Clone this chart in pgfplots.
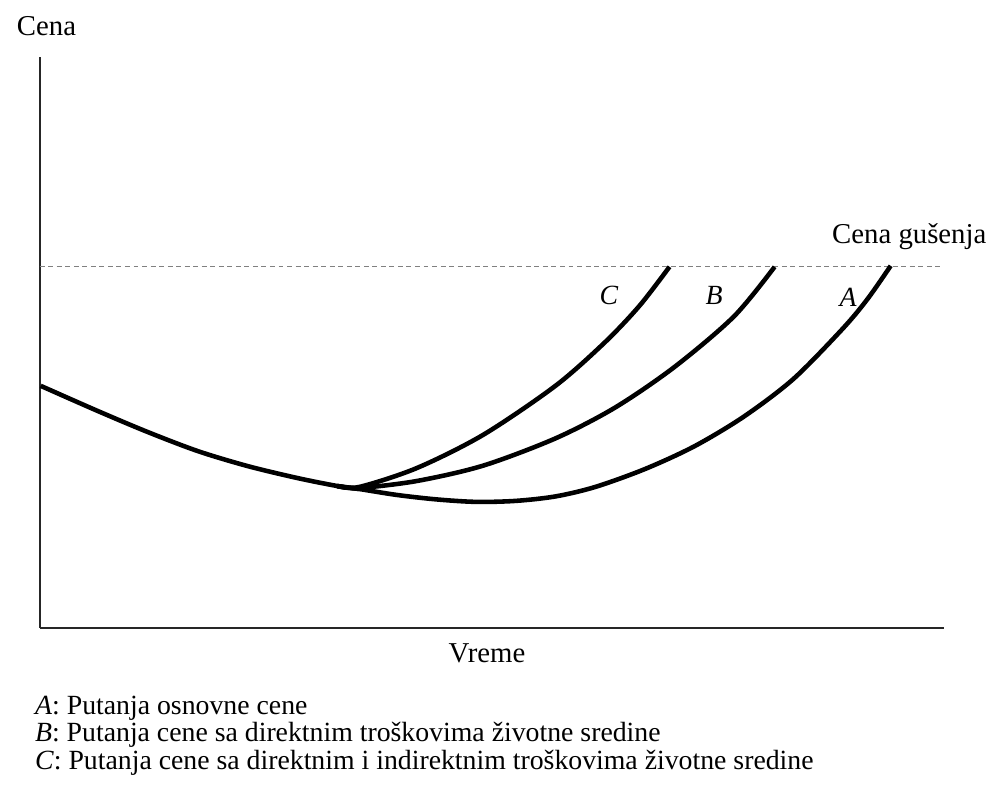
\documentclass[border=0pt]{standalone}
\usepackage{fontspec}
\setmainfont{Liberation Serif}
\usepackage{pgfplots}
\pgfplotsset{compat=1.18}
\begin{document}
\begin{tikzpicture}
\begin{axis}[
  x=0.5pt, y=0.5pt,
  xmin=40, xmax=952, ymin=170, ymax=746,
  axis lines=left,
  axis line style={-, line width=0.9pt, black!85},
  xtick=\empty, ytick=\empty,
  clip=false,
]
\path (axis cs:0,0) rectangle (axis cs:993,803);
% choke price line
\addplot[gray, dash pattern=on 2.5pt off 1.8pt, line width=0.6pt] coordinates {(40,534) (950,534)};
% common path
\addplot[black, line width=2.3pt, smooth] coordinates {
 (41,414) (100,388) (150,367) (200,348) (250,333) (300,321) (340,313) (362,310)};
% A
\addplot[black, line width=2.3pt, smooth] coordinates {
 (340,313) (362,310) (400,304) (440,299.5) (480,297) (520,298) (560,302.5) (600,312) (650,330) (700,353) (750,383) (800,421) (850,472) (875,502) (898,535)};
% B
\addplot[black, line width=2.3pt, smooth] coordinates {
 (340,313) (362,311) (420,318) (487,333.5) (560,361) (620,392) (680,433) (740,484) (781,534)};
% C
\addplot[black, line width=2.3pt, smooth] coordinates {
 (340,313) (362,312) (420,331) (487,364.5) (560,414) (610,458) (645,495) (675,534)};
\node[font=\fontsize{14.5}{16}\selectfont, anchor=base west] at (axis cs:10,767) {Cena};
\node[font=\fontsize{14.5}{16}\selectfont, anchor=base] at (axis cs:491,135) {Vreme};
\node[font=\fontsize{14.5}{16}\selectfont, anchor=base west] at (axis cs:832,557) {Cena gušenja};
\node[font=\fontsize{14}{16}\selectfont\itshape] at (axis cs:614,505) {C};
\node[font=\fontsize{14}{16}\selectfont\itshape] at (axis cs:720,505) {B};
\node[font=\fontsize{14}{16}\selectfont\itshape] at (axis cs:855,503) {A};
\node[font=\fontsize{14}{14}\selectfont, anchor=base west, inner sep=0pt] at (axis cs:35,83) {\textit{A}: Putanja osnovne cene};
\node[font=\fontsize{14}{14}\selectfont, anchor=base west, inner sep=0pt] at (axis cs:35,55) {\textit{B}: Putanja cene sa direktnim troškovima životne sredine};
\node[font=\fontsize{14}{14}\selectfont, anchor=base west, inner sep=0pt] at (axis cs:35,27) {\textit{C}: Putanja cene sa direktnim i indirektnim troškovima životne sredine};
\end{axis}
\end{tikzpicture}
\end{document}
